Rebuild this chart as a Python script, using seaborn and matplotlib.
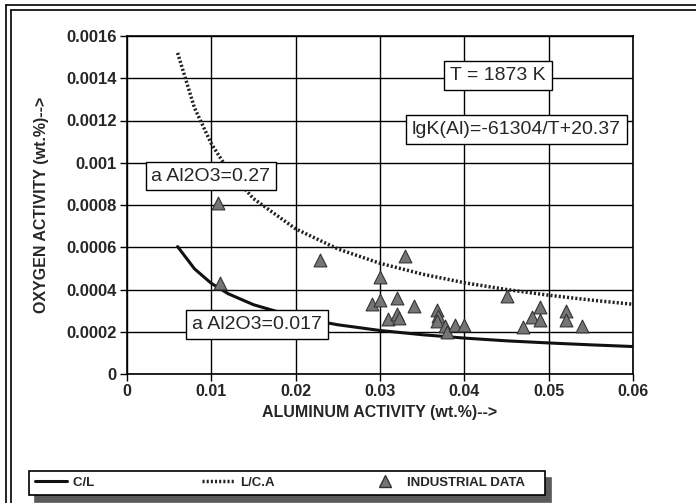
import numpy as np
import pandas as pd
import matplotlib
matplotlib.use("Agg")
import matplotlib.pyplot as plt
import seaborn as sns
from matplotlib.lines import Line2D

# curve readings (aluminum activity, oxygen activity)
curve_al = [0.006, 0.008, 0.01, 0.012, 0.015, 0.02, 0.025, 0.03, 0.035, 0.04, 0.045, 0.05, 0.055, 0.06]
cl_oxygen = [0.000603, 0.000498, 0.000429, 0.00038, 0.000328, 0.00027, 0.000233, 0.000206,
             0.000186, 0.00017, 0.000157, 0.000147, 0.000138, 0.00013]
lca_oxygen = [0.00152, 0.00126, 0.00109, 0.000965, 0.00083, 0.000687, 0.000592, 0.000524,
              0.000473, 0.000432, 0.0004, 0.000373, 0.00035, 0.00033]

# industrial data points
ind_al = [0.0108, 0.011, 0.0229, 0.033, 0.030, 0.029, 0.030, 0.032, 0.034, 0.031, 0.032, 0.0322,
          0.0368, 0.0369, 0.0368, 0.0377, 0.038, 0.0389, 0.040, 0.045, 0.047, 0.048, 0.049,
          0.049, 0.052, 0.052, 0.054]
ind_ox = [0.00081, 0.000433, 0.00054, 0.000559, 0.000458, 0.000332, 0.000351, 0.000359, 0.000323,
          0.00026, 0.000285, 0.000265, 0.000304, 0.000276, 0.000249, 0.000225, 0.0002, 0.000233,
          0.000233, 0.00037, 0.000222, 0.000272, 0.000317, 0.000257, 0.0003, 0.000257, 0.000225]

x_ticks = [0, 0.01, 0.02, 0.03, 0.04, 0.05, 0.06]
x_labels = ["0", "0.01", "0.02", "0.03", "0.04", "0.05", "0.06"]
y_ticks = [0, 0.0002, 0.0004, 0.0006, 0.0008, 0.001, 0.0012, 0.0014, 0.0016]
y_labels = ["0", "0.0002", "0.0004", "0.0006", "0.0008", "0.001", "0.0012", "0.0014", "0.0016"]

curves = pd.DataFrame({"al": curve_al, "cl": cl_oxygen, "lca": lca_oxygen})
ind = pd.DataFrame({"al": ind_al, "ox": ind_ox})

sns.set_style("white")
plt.rcParams['font.family'] = ['Liberation Sans', 'DejaVu Sans']

fig = plt.figure(figsize=(6.96, 5.03), dpi=100)
ax = fig.add_axes([127 / 696, 1 - 374 / 503, 506 / 696, 338 / 503])

sns.lineplot(data=curves, x="al", y="cl", ax=ax, color="#111111", lw=2.2, zorder=3)
sns.lineplot(data=curves, x="al", y="lca", ax=ax, color="#222222", lw=2.5,
             linestyle=(0, (0.6, 0.6)), zorder=3)
sns.scatterplot(data=ind, x="al", y="ox", ax=ax, marker="^", s=85, color="#757575",
                edgecolor="#333333", linewidth=0.8, zorder=4)

ax.set_xlim(0, 0.06)
ax.set_ylim(0, 0.0016)
ax.set_xticks(x_ticks)
ax.set_xticklabels(x_labels, fontsize=11.5, fontweight="bold")
ax.set_yticks(y_ticks)
ax.set_yticklabels(y_labels, fontsize=12, fontweight="bold")
ax.grid(True, color="black", lw=1)
ax.set_axisbelow(True)
ax.tick_params(axis="both", direction="out", length=5, width=1, color="black", pad=2.5,
               bottom=True, left=True)
for s in ax.spines.values():
    s.set_color("black")
    s.set_linewidth(1.2)

ax.set_xlabel("ALUMINUM ACTIVITY (wt.%)-->", fontsize=11.5, fontweight="bold")
ax.set_ylabel("OXYGEN ACTIVITY (wt.%)-->", fontsize=11.5, fontweight="bold")
ax.xaxis.set_label_coords(0.5, (374 - 405) / 338)
ax.yaxis.set_label_coords((49 - 127) / 506, 0.5)

box = dict(boxstyle="square,pad=0.3", fc="white", ec="black", lw=1)
ax.text(0.04399, 0.001413, "T = 1873 K", fontsize=14, ha="center", va="center",
        bbox=box, zorder=6)
ax.text(0.04619, 0.001157, "lgK(Al)=-61304/T+20.37", fontsize=14, ha="center",
        va="center", bbox=box, zorder=6)
ax.text(0.00996, 0.000937, "a Al2O3=0.27", fontsize=14, ha="center",
        va="center", bbox=box, zorder=6)
ax.text(0.01542, 0.000234, "a Al2O3=0.017", fontsize=14, ha="center",
        va="center", bbox=box, zorder=6)

handles = [Line2D([], [], color="#111111", lw=2.2),
           Line2D([], [], color="#222222", lw=2.5, linestyle=(0, (0.6, 0.6))),
           Line2D([], [], marker="^", ls="none", markersize=9, markerfacecolor="#757575",
                  markeredgecolor="#333333")]
# trailing spaces widen the columns so the entries sit where they do in the original
leg = fig.legend(handles, ["C/L    ", "L/C.A", "INDUSTRIAL DATA    "], loc="lower left",
                 bbox_to_anchor=(29 / 696, 1 - 495 / 503, 516 / 696, 27 / 503),
                 mode="expand", ncol=3, frameon=True, fancybox=False,
                 shadow={"color": "#5a5a5a", "alpha": 1, "ox": 4.5, "oy": -5},
                 prop={"weight": "bold", "size": 9.5}, handlelength=2.4,
                 handletextpad=0.5, borderpad=0.45, borderaxespad=0)
leg.get_frame().set_edgecolor("black")
leg.get_frame().set_linewidth(1.2)

# double frame on the left and top of the figure
for x0, y0 in [(6, 5), (11, 9.5)]:
    fig.add_artist(Line2D([x0 / 696, x0 / 696], [0, 1 - y0 / 503], color="black", lw=1.2,
                          transform=fig.transFigure))
    fig.add_artist(Line2D([x0 / 696, 1], [1 - y0 / 503, 1 - y0 / 503], color="black", lw=1.2,
                          transform=fig.transFigure))

fig.savefig("out.png", dpi=100)
